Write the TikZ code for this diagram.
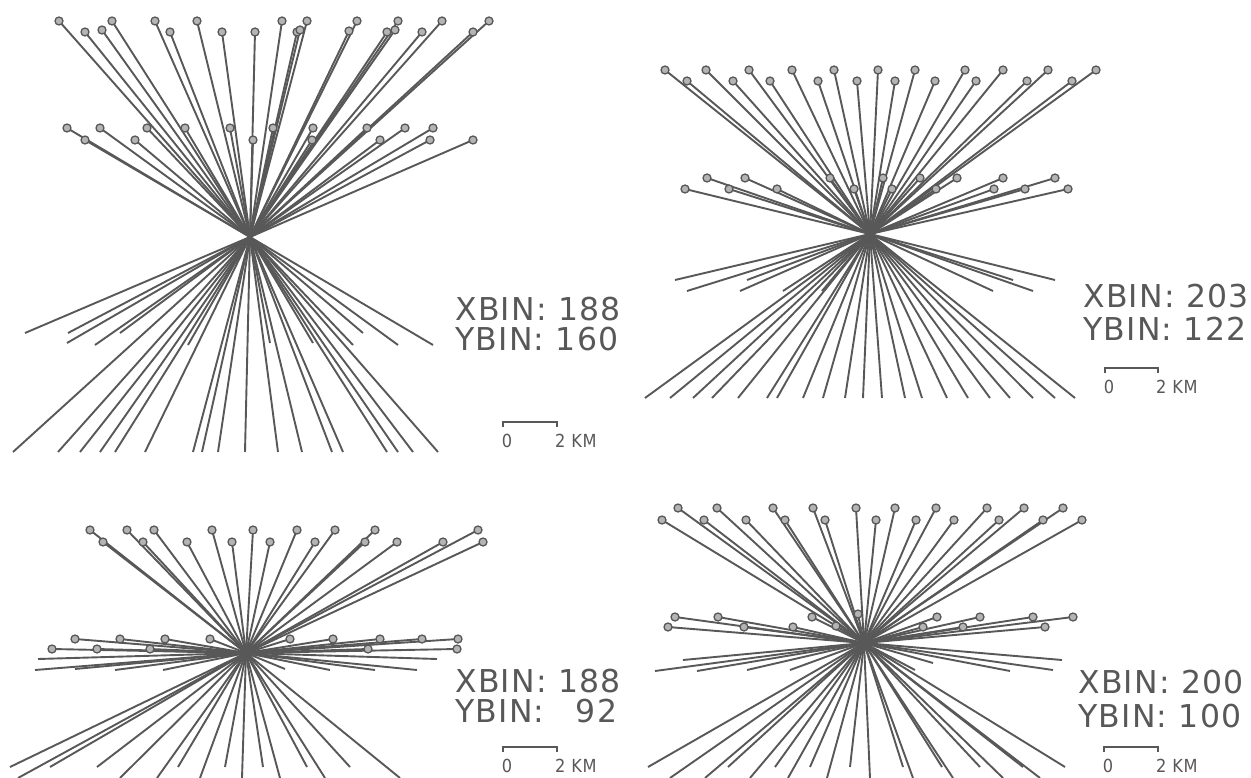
\documentclass[tikz,border=0pt]{standalone}
\usepackage{fontspec}
\newfontfamily\plotfont[LetterSpace=4]{DejaVu Sans}
\newfontfamily\kmfont[LetterSpace=4]{DejaVu Sans Condensed}
\definecolor{ink}{RGB}{88,88,88}
\tikzset{
  ray/.style={draw=ink, line width=1.9pt},
  src/.style={circle, draw=ink, fill=ink!45, line width=1.3pt, minimum size=8pt, inner sep=0pt},
  binlabel/.style={anchor=base west, inner sep=0pt, text=ink, font=\plotfont\fontsize{31.5}{36}\selectfont},
  kmlabel/.style={anchor=base, inner sep=0pt, text=ink, font=\kmfont\fontsize{18}{20}\selectfont},
  scalebar/.style={draw=ink, line width=1.5pt}
}
% one fan: centre name, list of source points (with rings), list of receiver ends
\newcommand{\fan}[3]{%
  \foreach \p in {#3} {\draw[ray] (#1) -- \p;}
  \foreach \p in {#2} {\draw[ray] (#1) -- \p;}
  \foreach \p in {#2} {\node[src] at \p {};}
}
% scale bar with "0" and "2 KM"
\newcommand{\kmbar}[3]{%
  \draw[scalebar] (#1,#3+5) -- (#1,#3) -- (#2,#3) -- (#2,#3+5);
  \node[kmlabel] at (#1+4,#3+25) {0};
  \node[kmlabel, anchor=base west] at (#2-2,#3+25) {2 KM};
}
\begin{document}
\begin{tikzpicture}[x=1pt, y=-1pt]
\useasboundingbox (0,0) rectangle (1251,778);

% ---------- upper left: XBIN 188 / YBIN 160 ----------
\coordinate (c1) at (250,237);
\fan{c1}{
  (59,21),(112,21),(155,21),(197,21),(282,21),(307,21),(357,21),(398,21),(442,21),(489,21),
  (85,32),(102,30),(170,32),(222,32),(255,32),(297,32),(300,30),(349,31),(387,32),(395,30),(422,32),(473,32),
  (67,128),(100,128),(147,128),(185,128),(230,128),(273,128),(313,128),(367,128),(405,128),(433,128),
  (85,140),(135,140),(253,140),(312,140),(380,140),(430,140),(473,140)
}{
  (25,333),(68,333),(67,343),(95,345),(120,333),(188,345),(270,343),(313,343),(353,345),(363,333),(398,345),(433,345),
  (13,452),(58,452),(80,452),(100,452),(115,452),(145,452),(193,452),(202,452),(218,452),(245,452),
  (278,452),(302,452),(332,452),(343,452),(387,452),(398,452),(413,452),(438,452)
}
\node[binlabel] (x1) at (455,320) {XBIN:\ 188};
\node[binlabel] (y1) at (455,350) {YBIN:\ 160};
\kmbar{503}{557}{422}

% ---------- upper right: XBIN 203 / YBIN 122 ----------
\coordinate (c2) at (870,234);
\fan{c2}{
  (665,70),(706,70),(749,70),(792,70),(834,70),(878,70),(915,70),(965,70),(1003,70),(1048,70),(1096,70),
  (687,81),(733,81),(770,81),(818,81),(857,81),(895,81),(935,81),(976,81),(1027,81),(1072,81),
  (707,178),(745,178),(830,178),(883,178),(920,178),(957,178),(1003,178),(1055,178),
  (685,189),(729,189),(777,189),(854,189),(892,189),(936,189),(994,189),(1025,189),(1068,189)
}{
  (675,280),(687,291),(740,291),(747,280),(783,291),(822,291),(993,291),(1013,280),(1033,291),(1055,280),
  (645,398),(670,398),(693,398),(712,398),(738,398),(767,398),(777,398),(803,398),(823,398),(845,398),(863,398),
  (882,398),(905,398),(922,398),(947,398),(968,398),(990,398),(1010,398),(1033,398),(1055,398),(1075,398)
}
\node[binlabel] (x2) at (1083,308) {XBIN:\ 203};
\node[binlabel] (y2) at (1083,341) {YBIN:\ 122};
\kmbar{1105}{1158}{368}

% ---------- lower left: XBIN 188 / YBIN 92 ----------
\coordinate (c3) at (246,653);
\fan{c3}{
  (90,530),(127,530),(154,530),(212,530),(253,530),(297,530),(335,530),(375,530),(478,530),
  (103,542),(143,542),(187,542),(232,542),(270,542),(315,542),(365,542),(397,542),(443,542),(483,542),
  (75,639),(120,639),(165,639),(210,639),(290,639),(333,639),(380,639),(422,639),(458,639),
  (52,649),(97,649),(150,649),(368,649),(457,649)
}{
  (38,659),(35,670),(75,669),(115,670),(163,670),(437,659),(417,670),(375,670),(330,670),(285,669),
  (10,767),(18,778),(50,767),(97,767),(120,778),(157,778),(178,767),(200,778),(225,767),(242,778),
  (263,767),(280,778),(307,767),(325,778),(350,767),(400,778)
}
\node[binlabel] (x3) at (455,692) {XBIN:\ 188};
\node[binlabel] (y3) at (455,722) {YBIN:\ \phantom{1}92};
\kmbar{503}{557}{747}

% ---------- lower right: XBIN 200 / YBIN 100 ----------
\coordinate (c4) at (864,643);
\fan{c4}{
  (678,508),(717,508),(773,508),(813,508),(856,508),(895,508),(936,508),(987,508),(1024,508),(1063,508),
  (662,520),(704,520),(746,520),(785,520),(825,520),(876,520),(916,520),(954,520),(999,520),(1043,520),(1082,520),
  (675,617),(718,617),(812,617),(937,617),(980,617),(1033,617),(1073,617),
  (668,627),(744,627),(793,627),(923,627),(963,627),(1045,627),(858,614),(836,626)
}{
  (683,660),(655,671),(697,671),(747,670),(790,670),(1062,660),(1053,670),(1010,671),(933,663),(915,670),
  (648,767),(670,778),(705,778),(728,767),(750,778),(775,767),(788,778),(810,767),(827,778),(850,767),
  (870,778),(903,767),(913,778),(942,767),(953,778),(980,767),(1003,778),(1023,767),(1040,778),(1065,767)
}
\node[binlabel] (x4) at (1078,693) {XBIN:\ 200};
\node[binlabel] (y4) at (1078,727) {YBIN:\ 100};
\kmbar{1104}{1158}{747}

\end{tikzpicture}
\end{document}
